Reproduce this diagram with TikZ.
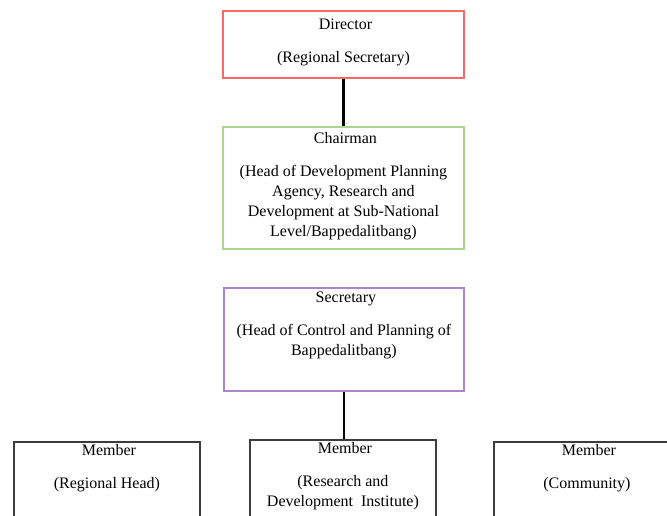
\documentclass[tikz,border=0pt]{standalone}
\usepackage{fontspec}
\setmainfont{Liberation Serif}
\usepackage{xcolor}
\usetikzlibrary{positioning}
\definecolor{boxred}{RGB}{250,104,104}
\definecolor{boxgreen}{RGB}{172,212,140}
\definecolor{boxpurple}{RGB}{176,132,204}
\definecolor{boxgrey}{RGB}{60,60,60}
% text block: width, height, first baseline, text
\newcommand{\boxtext}[4]{\parbox[c][#2][t]{#1}{\centering\rule{0pt}{#3}#4}}
\tikzset{
  unit/.style={rectangle, draw, line width=1.4pt, anchor=north west, inner sep=0pt,
               text=black, font=\fontsize{12}{15}\selectfont},
  link/.style={line width=1.6pt, black}
}

\begin{document}
\begin{tikzpicture}[x=0.75pt,y=-0.75pt]
\useasboundingbox (0,0) rectangle (667,515);
\clip (0,0) rectangle (667,515);

\node[unit, draw=boxred] (director) at (222,10) {\boxtext{180.75pt}{50.25pt}{14.25pt}{
  Director\\[9.5pt]
  (Regional Secretary)}};

\node[unit, draw=boxgreen] (chairman) at (222,126) {\boxtext{180.75pt}{91.5pt}{12.75pt}{
  Chairman\\[9.5pt]
  (Head of Development Planning\\
  Agency, Research and\\
  Development at Sub-National\\
  Level/Bappedalitbang)}};

\node[unit, draw=boxpurple] (secretary) at (223,287) {\boxtext{180pt}{77.25pt}{11.25pt}{
  Secretary\\[9.5pt]
  (Head of Control and Planning of\\
  Bappedalitbang)}};

\node[unit, draw=boxgrey] (memberhead) at (13,441) {\boxtext{139.5pt}{75pt}{10.5pt}{
  Member\\[9.5pt]
  (Regional Head)}};

\node[unit, draw=boxgrey] (memberinst) at (249,439) {\boxtext{139.5pt}{75pt}{10.5pt}{
  Member\\[9.5pt]
  (Research and\\
  Development\ \ Institute)}};

\node[unit, draw=boxgrey] (membercomm) at (493,441) {\boxtext{139.5pt}{75pt}{10.5pt}{
  Member\\[9.5pt]
  (Community)}};

\draw[link] (director.south) -- (chairman.north);
\draw[link] (secretary.south) -- (secretary.south |- memberinst.north);
\end{tikzpicture}
\end{document}
